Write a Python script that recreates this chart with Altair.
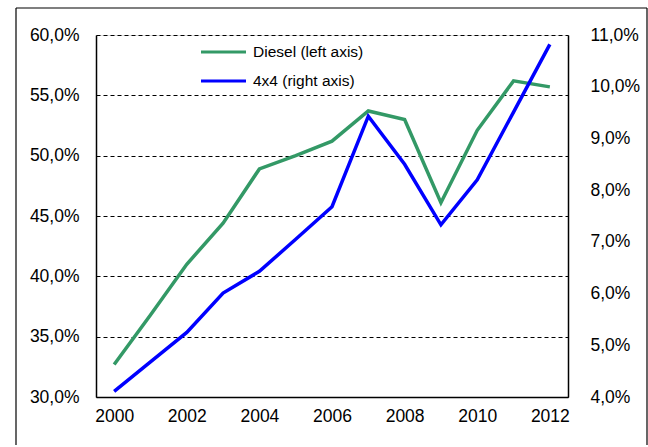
import altair as alt
import pandas as pd

years = list(range(2000, 2013))
diesel = [32.7, 36.8, 41.0, 44.4, 48.9, 50.0, 51.2, 53.7, 53.0, 46.1, 52.1, 56.2, 55.7]
suv = [4.11, 4.68, 5.25, 6.01, 6.43, 7.05, 7.68, 9.43, 8.50, 7.33, 8.20, 9.51, 10.82]

left_ticks = [30, 35, 40, 45, 50, 55, 60]
right_ticks = [4, 5, 6, 7, 8, 9, 10, 11]
x_ticks = [2000, 2002, 2004, 2006, 2008, 2010, 2012]

legend_labels = ["Diesel (left axis)", "4x4 (right axis)"]
legend_colors = ["#339966", "#0000FF"]

df = pd.DataFrame({"year": years, "diesel": diesel, "suv": suv})

FONT = "Liberation Sans"
W, H = 472, 362
FS = 17.5
fmt = "replace(format(datum.value, '.1f'), '.', ',') + '%'"

x_enc = alt.X(
    "year:O",
    scale=alt.Scale(type="point", padding=0.5),
    axis=alt.Axis(
        values=x_ticks, labelAngle=0, title=None, ticks=False,
        domainColor="black", domainWidth=1.5, labelPadding=10,
        labelFont=FONT, labelFontSize=FS, labelColor="black", grid=False,
    ),
)

diesel_line = alt.Chart(df).mark_line(color=legend_colors[0], strokeWidth=3.5).encode(
    x=x_enc,
    y=alt.Y(
        "diesel:Q",
        scale=alt.Scale(domain=[30, 60], nice=False, zero=False),
        axis=alt.Axis(
            values=left_ticks, title=None, ticks=False, labelExpr=fmt,
            domainColor="black", domainWidth=1.5, labelPadding=17,
            labelFont=FONT, labelFontSize=FS, labelColor="black",
            grid=True, gridColor="black", gridDash=[4, 3], gridWidth=1, gridOpacity=1,
        ),
    ),
)

suv_line = alt.Chart(df).mark_line(color=legend_colors[1], strokeWidth=3.5).encode(
    x=x_enc,
    y=alt.Y(
        "suv:Q",
        scale=alt.Scale(domain=[4, 11], nice=False, zero=False),
        axis=alt.Axis(
            orient="right", values=right_ticks, title=None, ticks=False, labelExpr=fmt,
            domainColor="black", domainWidth=1.5, labelPadding=22,
            labelFont=FONT, labelFontSize=FS, labelColor="black", grid=False,
        ),
    ),
)

one = pd.DataFrame({"k": [0]})
layers = [diesel_line, suv_line]

# legend (inside plot area)
leg_y = [17, 46]
for lab, col, yy in zip(legend_labels, legend_colors, leg_y):
    layers.append(
        alt.Chart(one).mark_rule(color=col, strokeWidth=3).encode(
            x=alt.value(105), x2=alt.value(150), y=alt.value(yy)
        )
    )
    layers.append(
        alt.Chart(one).mark_text(
            text=lab, align="left", baseline="middle", font=FONT, fontSize=15.5, color="black"
        ).encode(x=alt.value(157), y=alt.value(yy))
    )

# outer chart-area frame
frame_col = "black"
layers.append(alt.Chart(one).mark_rule(color=frame_col, strokeWidth=1.2).encode(
    x=alt.value(-80), y=alt.value(-27), y2=alt.value(410)))
layers.append(alt.Chart(one).mark_rule(color=frame_col, strokeWidth=1.2).encode(
    x=alt.value(551), y=alt.value(-27), y2=alt.value(410)))
layers.append(alt.Chart(one).mark_rule(color=frame_col, strokeWidth=1.2).encode(
    x=alt.value(-80), x2=alt.value(551), y=alt.value(-27)))

chart = (
    alt.layer(*layers)
    .resolve_scale(y="independent")
    .properties(width=W, height=H, padding={"left": 15, "top": 7, "right": 0, "bottom": 0})
    .configure_view(strokeWidth=0)
    .configure(background="white")
)

chart.save("out.html", embed_options={"renderer": "svg", "actions": False})
